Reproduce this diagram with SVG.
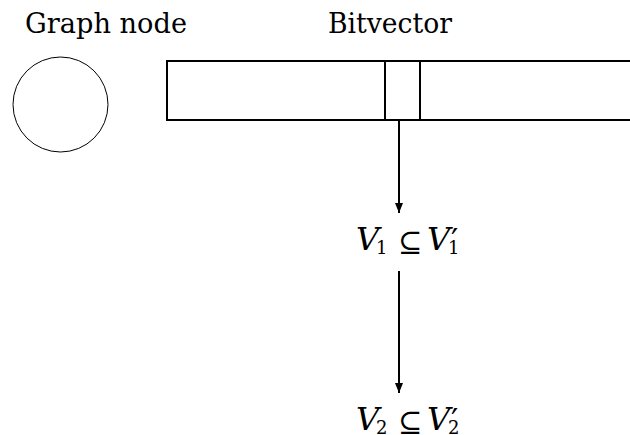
<svg xmlns="http://www.w3.org/2000/svg" width="630" height="435" viewBox="0 0 630 435">
<defs>
<marker id="ah" markerWidth="10" markerHeight="8" refX="10" refY="4" orient="auto" markerUnits="userSpaceOnUse" viewBox="0 0 10 8">
<path d="M0,0 L10,4 L0,8 Z" fill="#000"/>
</marker>
</defs>
<style>
text{font-family:"DejaVu Serif",serif;fill:#000}
.lbl{font-size:27px}
.math{font-size:32px}
.it{font-style:italic}
.sub{font-size:18px}
.rel{font-size:29px}
.pr{font-size:32px;font-family:"DejaVu Sans",sans-serif}
.box{fill:none;stroke:#000;stroke-width:2}
.edge{fill:none;stroke:#000;stroke-width:2}
</style>
<rect width="630" height="435" fill="#fff"/>
<g id="graph-node">
<text class="lbl" x="25" y="33" textLength="162" lengthAdjust="spacingAndGlyphs">Graph node</text>
<circle cx="60.5" cy="104.5" r="47.5" fill="none" stroke="#000" stroke-width="1"/>
</g>
<g id="bitvector">
<text class="lbl" x="328" y="33" textLength="124" lengthAdjust="spacingAndGlyphs">Bitvector</text>
<rect class="box" x="167" y="61" width="480" height="59"/>
<line class="box" x1="385" y1="61" x2="385" y2="120"/>
<line class="box" x1="420" y1="61" x2="420" y2="120"/>
</g>
<g id="v1">
<text class="math"><tspan class="it" x="356" y="250">V</tspan><tspan class="sub" x="376" y="254">1</tspan><tspan class="rel" x="398" y="252">⊆</tspan><tspan class="it" x="427" y="250">V</tspan><tspan class="pr" x="451" y="251">′</tspan><tspan class="sub" x="448" y="254">1</tspan></text>
</g>
<g id="v2">
<text class="math"><tspan class="it" x="356" y="430">V</tspan><tspan class="sub" x="376" y="434">2</tspan><tspan class="rel" x="398" y="432">⊆</tspan><tspan class="it" x="427" y="430">V</tspan><tspan class="pr" x="451" y="431">′</tspan><tspan class="sub" x="448" y="434">2</tspan></text>
</g>
<g id="connectors">
<line class="edge" x1="399" y1="120" x2="399" y2="213" marker-end="url(#ah)"/>
<line class="edge" x1="399" y1="271" x2="399" y2="393" marker-end="url(#ah)"/>
</g>
</svg>
